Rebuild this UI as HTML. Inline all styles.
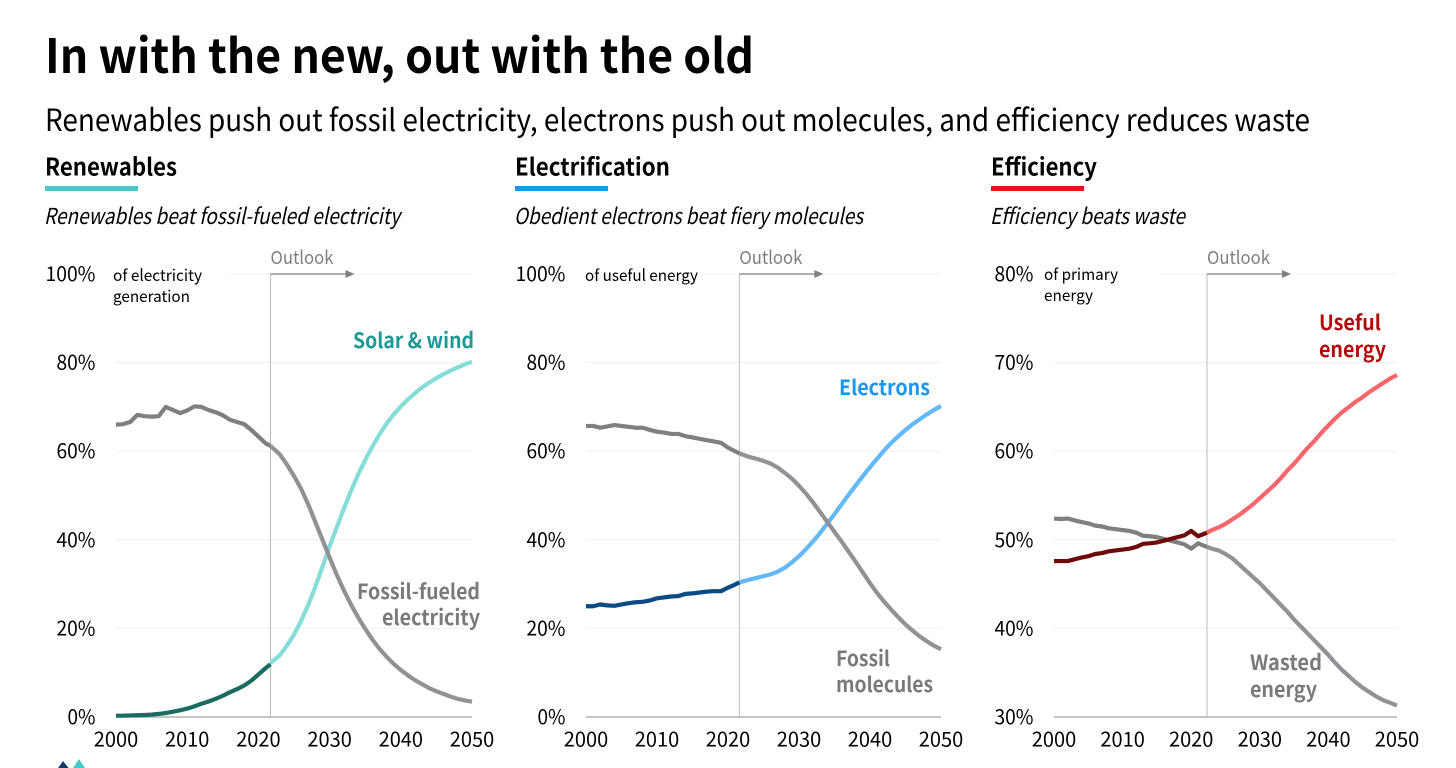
<!DOCTYPE html>
<html lang="en"><head><meta charset="utf-8"><title>In with the new, out with the old</title>
<style>
html,body{margin:0;padding:0;background:#fff;width:1456px;height:768px;overflow:hidden}
svg{display:block}
text{font-family:"Noto Sans CJK JP","Liberation Sans",sans-serif;fill:#000}
.h{font-weight:700;font-size:24px}
.it{font-style:italic;font-size:22px}
.ol{font-size:18px;fill:#7f7f7f}
.unit{font-size:16px}
.lab{font-weight:700;font-size:21px}
.tick{font-size:20px}
</style></head><body>
<svg id="chart" width="1456" height="768" viewBox="0 0 1456 768" xmlns="http://www.w3.org/2000/svg">
<rect width="1456" height="768" fill="#fff"/>
<text x="45" y="73" font-size="47" font-weight="700" textLength="709" lengthAdjust="spacingAndGlyphs">In with the new, out with the old</text>
<text x="45" y="131" font-size="30.5" textLength="1265" lengthAdjust="spacingAndGlyphs">Renewables push out fossil electricity, electrons push out molecules, and efficiency reduces waste</text>

<text class="h" x="45" y="175.5" textLength="132" lengthAdjust="spacingAndGlyphs">Renewables</text>
<rect x="45" y="186" width="93" height="5" fill="#45c8c6"/>
<text class="it" x="44" y="224" textLength="356" lengthAdjust="spacingAndGlyphs">Renewables beat fossil-fueled electricity</text>
<text class="h" x="515" y="175.5" textLength="155" lengthAdjust="spacingAndGlyphs">Electrification</text>
<rect x="515" y="186" width="93" height="5" fill="#1a96ee"/>
<text class="it" x="514" y="224" textLength="349" lengthAdjust="spacingAndGlyphs">Obedient electrons beat fiery molecules</text>
<text class="h" x="991" y="175.5" textLength="106" lengthAdjust="spacingAndGlyphs">Efficiency</text>
<rect x="991" y="186" width="93" height="5" fill="#e8141c"/>
<text class="it" x="990" y="224" textLength="195" lengthAdjust="spacingAndGlyphs">Efficiency beats waste</text>

<g id="panel-renewables"></g>
<g id="panel-electrification"></g>
<g id="panel-efficiency"></g>

<text class="unit" x="113" y="281" textLength="89" lengthAdjust="spacingAndGlyphs">of electricity</text>
<text class="unit" x="113" y="302" textLength="77" lengthAdjust="spacingAndGlyphs">generation</text>
<text class="unit" x="585" y="281" textLength="113" lengthAdjust="spacingAndGlyphs">of useful energy</text>
<text class="unit" x="1044" y="280" textLength="74" lengthAdjust="spacingAndGlyphs">of primary</text>
<text class="unit" x="1044" y="301" textLength="49" lengthAdjust="spacingAndGlyphs">energy</text>

<text class="lab" x="353" y="348" textLength="121" lengthAdjust="spacingAndGlyphs" style="fill:#1d9a96">Solar &amp; wind</text>
<text class="lab" x="357" y="599" textLength="123" lengthAdjust="spacingAndGlyphs" style="fill:#7a7a7a">Fossil-fueled</text>
<text class="lab" x="382" y="625" textLength="98" lengthAdjust="spacingAndGlyphs" style="fill:#7a7a7a">electricity</text>
<text class="lab" x="839" y="395" textLength="91" lengthAdjust="spacingAndGlyphs" style="fill:#1a96ee">Electrons</text>
<text class="lab" x="836" y="666" textLength="54" lengthAdjust="spacingAndGlyphs" style="fill:#7a7a7a">Fossil</text>
<text class="lab" x="836" y="692" textLength="97" lengthAdjust="spacingAndGlyphs" style="fill:#7a7a7a">molecules</text>
<text class="lab" x="1319" y="330" textLength="62" lengthAdjust="spacingAndGlyphs" style="fill:#b00a0a">Useful</text>
<text class="lab" x="1319" y="357" textLength="67" lengthAdjust="spacingAndGlyphs" style="fill:#b00a0a">energy</text>
<text class="lab" x="1250" y="670" textLength="72" lengthAdjust="spacingAndGlyphs" style="fill:#7a7a7a">Wasted</text>
<text class="lab" x="1250" y="697" textLength="67" lengthAdjust="spacingAndGlyphs" style="fill:#7a7a7a">energy</text>

<g>
<polygon points="56,771 63,761 71,771" fill="#0e3a66"/>
<polygon points="71,771 79,759 87,771" fill="#45c8c6"/>
</g>
</svg>
<script>
const histYears = [2000,2001,2002,2003,2004,2005,2006,2007,2008,2009,2010,2011,2012,2013,2014,2015,2016,2017,2018,2019,2020,2021];
const outYears = [2023,2024,2025,2026,2027,2028,2029,2030,2031,2032,2033,2034,2035,2036,2037,2038,2039,2040,2041,2042,2043,2044,2045,2046,2047,2048,2049,2050];
const xTickLabels = [2000,2010,2020,2030,2040,2050];

const renewOutlookYear = 2021.7;
const renewYTicks = [0,20,40,60,80,100];
const renewFossilHist = [66.0,66.1,66.6,68.2,67.9,67.8,67.9,70.0,69.3,68.6,69.2,70.1,70.0,69.3,68.8,68.1,67.1,66.6,66.1,64.8,63.3,61.8,61.2];
const renewFossilOut = [61.2,59.3,57,54.4,51.5,48,44,40,36,32.1,28.6,25.4,22.5,19.9,17.5,15.4,13.6,12,10.6,9.4,8.3,7.4,6.5,5.8,5.2,4.6,4.1,3.75,3.45];
const renewSolarHist = [0.3,0.3,0.35,0.4,0.45,0.55,0.7,0.9,1.2,1.5,1.9,2.4,3.0,3.5,4.1,4.8,5.6,6.3,7.1,8.2,9.6,11.0,11.9];
const renewSolarOut = [12.2,13.9,16.1,18.6,21.7,25.3,29.4,33.9,38.5,42.8,47,51,54.7,58,61,63.8,66.2,68.3,70.1,71.7,73.1,74.4,75.5,76.5,77.4,78.2,78.9,79.6,80.2];

const elecOutlookYear = 2021.6;
const elecYTicks = [0,20,40,60,80,100];
const elecFossilHist = [65.7,65.7,65.3,65.6,65.9,65.7,65.5,65.3,65.3,64.8,64.4,64.2,63.9,63.9,63.4,63.1,62.8,62.5,62.2,61.9,60.8,60.0,59.5];
const elecFossilOut = [59.5,58.7,58.3,57.8,57.2,56.3,55.1,53.8,52.2,50.4,48.4,46.2,44,41.8,39.6,37.3,35,32.6,30.2,28,26,24.2,22.5,20.9,19.5,18.2,17.1,16.1,15.3];
const elecElectronsHist = [25,25,25.4,25.2,25.1,25.4,25.7,25.9,26,26.3,26.8,27,27.2,27.3,27.8,27.9,28.1,28.3,28.4,28.4,29.2,29.9,30.4];
const elecElectronsOut = [30.4,31,31.4,31.8,32.2,32.8,33.7,34.9,36.3,37.9,39.7,41.6,43.7,45.8,48,50.2,52.3,54.4,56.4,58.3,60.2,61.9,63.4,64.8,66.1,67.2,68.3,69.3,70.2];

const effOutlookYear = 2022.3;
const effYTicks = [30,40,50,60,70,80];
const effWastedHist = [52.4,52.35,52.4,52.2,52,51.85,51.6,51.5,51.3,51.2,51.1,51,50.8,50.45,50.4,50.3,50.1,49.9,49.7,49.5,49,49.6,49.2];
const effWastedOut = [49.2,49,48.8,48.4,47.9,47.2,46.5,45.8,45.1,44.3,43.5,42.7,41.9,41,40.2,39.4,38.6,37.8,37,36.1,35.3,34.6,33.9,33.3,32.8,32.3,31.9,31.6,31.3];
const effUsefulHist = [47.6,47.6,47.6,47.8,48,48.15,48.4,48.5,48.7,48.8,48.9,49,49.2,49.55,49.6,49.7,49.9,50.1,50.3,50.5,51,50.4,50.8];
const effUsefulOut = [50.8,51.1,51.4,51.8,52.3,52.8,53.4,54,54.7,55.4,56.1,56.9,57.8,58.6,59.5,60.4,61.2,62.1,62.9,63.7,64.4,65,65.6,66.1,66.7,67.2,67.7,68.2,68.6];

const NS = 'http://www.w3.org/2000/svg';
function make(parent, tag, attrs, label) {
  const el = document.createElementNS(NS, tag);
  for (const k in attrs) el.setAttribute(k, attrs[k]);
  if (label !== undefined) el.textContent = label;
  parent.appendChild(el);
  return el;
}
function pathFrom(xs, ys, xScale, yScale) {
  return xs.map(function (v, i) { return (i ? 'L' : 'M') + xScale(v).toFixed(2) + ' ' + yScale(ys[i]).toFixed(2); }).join('');
}
function drawPanel(cfg) {
  const g = document.getElementById(cfg.id);
  const top = 274, bottom = 717;
  const xScale = function (v) { return cfg.x0 + (v - 2000) / 50 * (cfg.x1 - cfg.x0); };
  const yMin = cfg.yTicks[0], yMax = cfg.yTicks[cfg.yTicks.length - 1];
  const yScale = function (v) { return bottom - (v - yMin) / (yMax - yMin) * (bottom - top); };

  cfg.yTicks.forEach(function (t) {
    const isTop = t === yMax, isBase = t === yMin;
    if (!isBase) {
      const grid = make(g, 'line', { x1: isTop ? cfg.topGridStart : cfg.x0, x2: cfg.x1, y1: yScale(t), y2: yScale(t), stroke: '#efefef', 'stroke-width': 1 });
      
      
    }
    const lab = make(g, 'text', { x: cfg.x0 - 20.5, y: yScale(t) + 7, 'text-anchor': 'end', class: 'tick', textLength: String(t).length === 3 ? 50 : (String(t).length === 2 ? 39 : 28), lengthAdjust: 'spacingAndGlyphs' }, t + '%');
    
    
  });
  xTickLabels.forEach(function (t) {
    const lab = make(g, 'text', { x: xScale(t), y: 746.5, 'text-anchor': 'middle', class: 'tick' }, t);
    
    
  });

  const base = make(g, 'line', { x1: cfg.x0, x2: cfg.x1, y1: bottom, y2: bottom, stroke: '#a0a0a0', 'stroke-width': 1.2 });
  
  

  const bx = xScale(cfg.outlookYear);
  const rule = make(g, 'line', { x1: bx, x2: bx, y1: top, y2: bottom, stroke: '#bcbcbc', 'stroke-width': 1 });
  
  
  const arrow = make(g, 'line', { x1: bx, x2: bx + 76, y1: top, y2: top, stroke: '#7f7f7f', 'stroke-width': 1.3 });
  
  
  const head = make(g, 'polygon', { points: (bx + 75) + ',' + (top - 4) + ' ' + (bx + 84) + ',' + top + ' ' + (bx + 75) + ',' + (top + 4), fill: '#7f7f7f' });
  
  
  const ol = make(g, 'text', { x: bx, y: 264, class: 'ol', textLength: 63, lengthAdjust: 'spacingAndGlyphs' }, 'Outlook');
  
  

  const histX = histYears.concat([cfg.outlookYear]);
  const outX = [cfg.outlookYear].concat(outYears);
  cfg.series.forEach(function (s) {
    const outLine = make(g, 'path', { d: pathFrom(outX, s.out, xScale, yScale), fill: 'none', stroke: s.outColor, 'stroke-width': 4.2, 'stroke-linejoin': 'round' });
    
    
    const histLine = make(g, 'path', { d: pathFrom(histX, s.hist, xScale, yScale), fill: 'none', stroke: s.histColor, 'stroke-width': 4.2, 'stroke-linejoin': 'round' });
    
    
  });
}

drawPanel({ id: 'panel-renewables', x0: 116, x1: 472, topGridStart: 230, outlookYear: renewOutlookYear, yTicks: renewYTicks, series: [
  { name: 'solar-wind', hist: renewSolarHist, out: renewSolarOut, histColor: '#1a6b62', outColor: '#86dcd9' },
  { name: 'fossil-electricity', hist: renewFossilHist, out: renewFossilOut, histColor: '#7f7f7f', outColor: '#929195' }
]});
drawPanel({ id: 'panel-electrification', x0: 586, x1: 941, topGridStart: 700, outlookYear: elecOutlookYear, yTicks: elecYTicks, series: [
  { name: 'electrons', hist: elecElectronsHist, out: elecElectronsOut, histColor: '#0a4a85', outColor: '#64b8f8' },
  { name: 'fossil-molecules', hist: elecFossilHist, out: elecFossilOut, histColor: '#7f7f7f', outColor: '#929195' }
]});
drawPanel({ id: 'panel-efficiency', x0: 1054, x1: 1397, topGridStart: 1160, outlookYear: effOutlookYear, yTicks: effYTicks, series: [
  { name: 'wasted-energy', hist: effWastedHist, out: effWastedOut, histColor: '#7f7f7f', outColor: '#929195' },
  { name: 'useful-energy', hist: effUsefulHist, out: effUsefulOut, histColor: '#6e0a0a', outColor: '#f6666a' }
]});
</script>
</body></html>
